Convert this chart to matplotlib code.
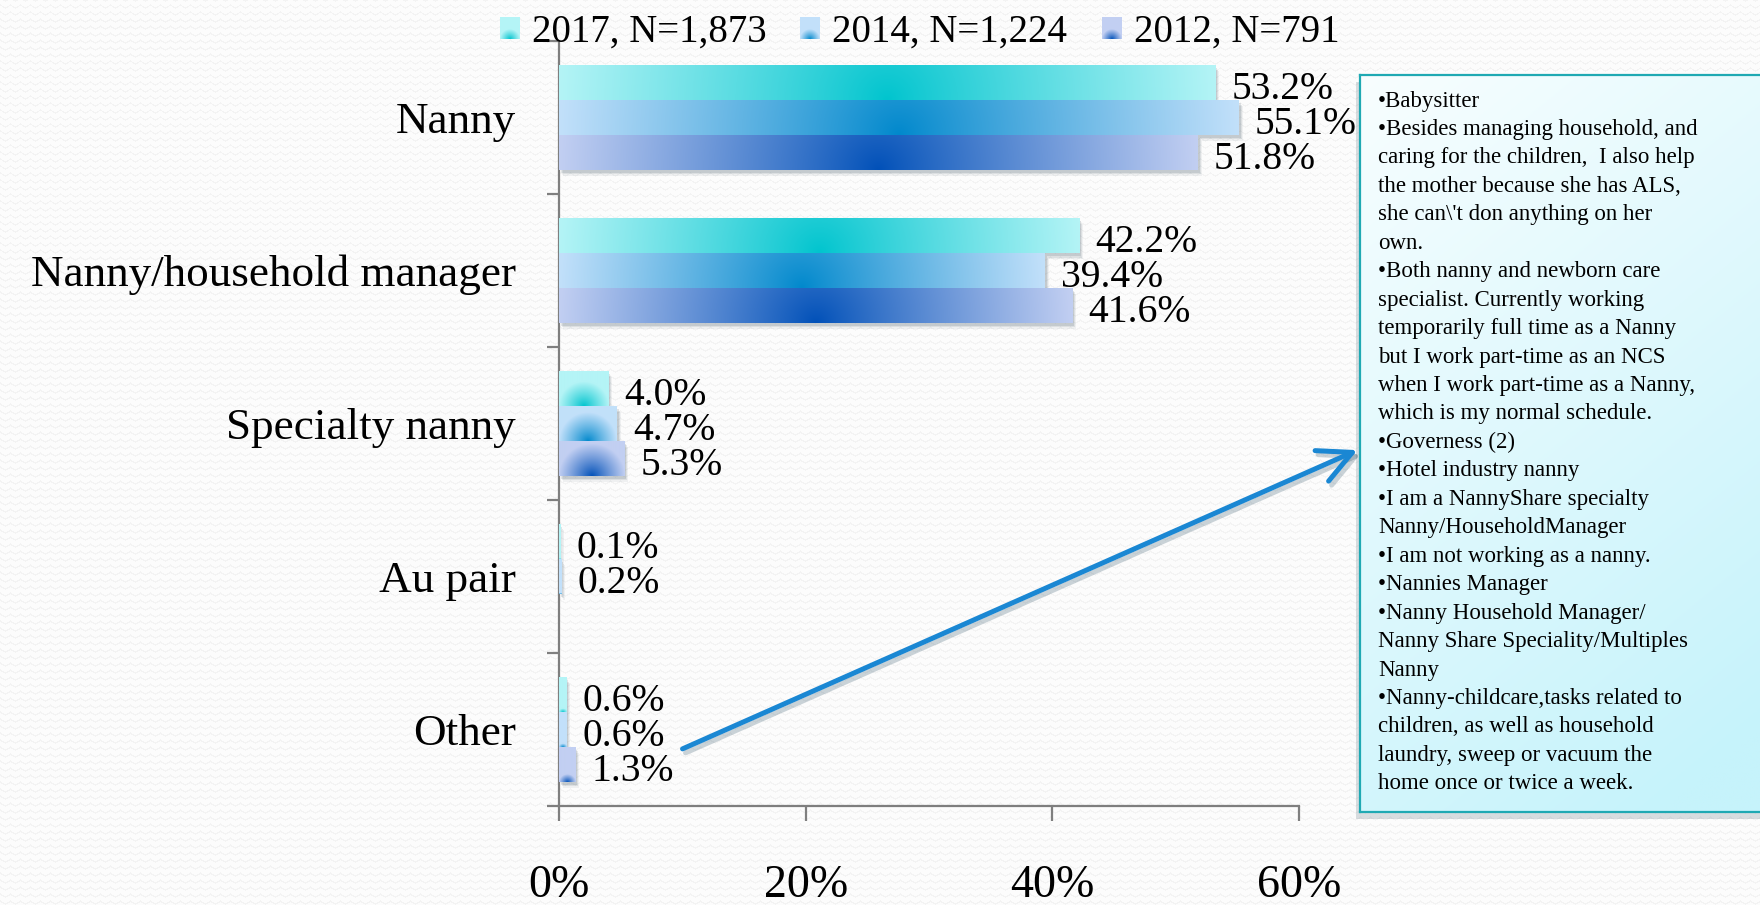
import numpy as np
import matplotlib
matplotlib.use("Agg")
import matplotlib.pyplot as plt
from matplotlib.colors import to_rgb
from matplotlib.patches import Rectangle, FancyArrowPatch
from matplotlib.transforms import ScaledTranslation, IdentityTransform

categories = ["Nanny", "Nanny/household manager", "Specialty nanny", "Au pair", "Other"]
series_names = ["2017, N=1,873", "2014, N=1,224", "2012, N=791"]
v2017 = [53.2, 42.2, 4.0, 0.1, 0.6]
v2014 = [55.1, 39.4, 4.7, 0.2, 0.6]
v2012 = [51.8, 41.6, 5.3, np.nan, 1.3]
x_ticks = [0, 20, 40, 60]
x_labels = ["0%", "20%", "40%", "60%"]

other_notes = [
    "\u2022Babysitter",
    "\u2022Besides managing household, and",
    "caring for the children,  I also help",
    "the mother because she has ALS,",
    "she can\\'t don anything on her",
    "own.",
    "\u2022Both nanny and newborn care",
    "specialist. Currently working",
    "temporarily full time as a Nanny",
    "but I work part-time as an NCS",
    "when I work part-time as a Nanny,",
    "which is my normal schedule.",
    "\u2022Governess (2)",
    "\u2022Hotel industry nanny",
    "\u2022I am a NannyShare specialty",
    "Nanny/HouseholdManager",
    "\u2022I am not working as a nanny.",
    "\u2022Nannies Manager",
    "\u2022Nanny Household Manager/",
    "Nanny Share Speciality/Multiples",
    "Nanny",
    "\u2022Nanny-childcare,tasks related to",
    "children, as well as household",
    "laundry, sweep or vacuum the",
    "home once or twice a week.",
]

# (light edge, saturated centre) for each series
fills = [("#b4f4f6", "#00c4ce"), ("#c2e0fa", "#0088cc"), ("#c2cff2", "#0050b8")]

FONT = "Liberation Serif"
W, H, DPI = 1760, 905, 100


def radial_fill(w_px, h_px, light, dark):
    # circular gradient centred on the bottom middle of the shape
    nx = max(int(round(w_px)), 2)
    ny = max(int(round(h_px)), 2)
    xs = np.arange(nx) + 0.5 - nx / 2
    ys = ny - (np.arange(ny) + 0.5)
    X, Y = np.meshgrid(xs, ys)
    r = max(w_px / 2, 1.0)
    t = np.clip(np.hypot(X, Y) / r, 0, 1) ** 0.9
    lo, hi = np.array(to_rgb(dark)), np.array(to_rgb(light))
    return lo + (hi - lo) * t[..., None]


fig = plt.figure(figsize=(W / DPI, H / DPI), dpi=DPI)
fig.patch.set_facecolor("white")

# faint zig-zag paper texture
yy, xx = np.mgrid[0:H, 0:W]
tri = np.abs((xx % 10) - 5) * 0.6
pat = ((yy + tri) % 7) < 1.4
bg = np.where(pat, 0.955, 0.99)
fig.figimage(np.dstack([bg, bg, bg]), 0, 0, zorder=-10)

ax = fig.add_axes([559 / W, 1 - 806 / H, 740 / W, 765 / H])
ax.set_facecolor("none")
ax.set_xlim(0, 60)
ax.set_ylim(4.5, -0.5)

bar_h = 0.227
ypos = np.arange(len(categories))
all_series = [v2017, v2014, v2012]

for i, vals in enumerate(all_series):
    light, dark = fills[i]
    offs = ypos + (i - 1) * bar_h
    bars = ax.barh(offs, np.nan_to_num(vals), height=bar_h, color="none",
                   edgecolor="none", zorder=3)
    for b, v, yc in zip(bars, vals, offs):
        if np.isnan(v):
            continue
        y0, y1 = yc - bar_h / 2, yc + bar_h / 2
        p0 = ax.transData.transform((0, y0))
        p1 = ax.transData.transform((v, y1))
        w_px, h_px = abs(p1[0] - p0[0]), abs(p1[1] - p0[1])
        # soft drop shadow
        for k, a in enumerate([0.12, 0.09, 0.06]):
            sh = ScaledTranslation((2 + k) / DPI, -(3 + 1.5 * k) / DPI, fig.dpi_scale_trans)
            ax.add_patch(Rectangle((0, y0), v, bar_h, facecolor="#1f3a4a",
                                   alpha=a, edgecolor="none",
                                   transform=ax.transData + sh, zorder=2))
        img = radial_fill(w_px, h_px, light, dark)
        ax.imshow(img, extent=(0, v, y1, y0), origin="upper", aspect="auto",
                  interpolation="bilinear", zorder=3)
        ax.annotate(f"{v:.1f}%", xy=(v, yc), xytext=(16, -7),
                    textcoords="offset pixels", ha="left", va="center",
                    fontsize=28.5, family=FONT, color="black", zorder=5)

ax.set_xlim(0, 60)
ax.set_ylim(4.5, -0.5)

for s in ["top", "right"]:
    ax.spines[s].set_visible(False)
for s in ["left", "bottom"]:
    ax.spines[s].set_color("#7f7f7f")
    ax.spines[s].set_linewidth(1.6)

ax.set_yticks(ypos)
ax.set_yticklabels(categories, fontsize=32.5, family=FONT)
ax.set_yticks(np.arange(-0.5, 4.6, 1.0), minor=True)
ax.tick_params(axis="y", which="major", length=0, pad=31)
ax.tick_params(axis="y", which="minor", length=9, width=1.6, color="#7f7f7f",
               direction="out")
ax.set_xticks(x_ticks)
ax.set_xticklabels(x_labels, fontsize=33, family=FONT)
ax.tick_params(axis="x", length=11, width=1.6, color="#7f7f7f",
               direction="out", pad=31)

# legend across the top
leg_x = [500, 800, 1102]
for i, name in enumerate(series_names):
    light, dark = fills[i]
    sw = radial_fill(20, 22, light, dark)
    fig.figimage(sw, leg_x[i], H - 39, zorder=5)
    fig.text((leg_x[i] + 32) / W, 1 - 32 / H, name, fontsize=28, family=FONT,
             ha="left", va="center")

# notes box for "Other"
bx0, by_top, by_bot = 1360, 75, 812
shadow = Rectangle(((bx0 - 4) / W, 1 - (by_bot + 7) / H), (W - bx0 + 20) / W,
                   (by_bot - by_top) / H, transform=fig.transFigure,
                   facecolor="#6a7f8a", alpha=0.25, edgecolor="none", zorder=6)
fig.add_artist(shadow)
bax = fig.add_axes([bx0 / W, 1 - by_bot / H, (W - bx0 + 20) / W, (by_bot - by_top) / H])
bax.set_zorder(7)
gy, gx = np.mgrid[0:1:200j, 0:1:200j]
gt = np.clip(0.35 * gx + 0.75 * gy, 0, 1)
top_c, bot_c = np.array(to_rgb("#f8feff")), np.array(to_rgb("#c6f3fb"))
bax.imshow(top_c + (bot_c - top_c) * gt[..., None], extent=(0, 1, 0, 1),
           origin="upper", aspect="auto")
bax.set_xticks([])
bax.set_yticks([])
for s in bax.spines.values():
    s.set_color("#1fa9b3")
    s.set_linewidth(1.6)

for j, line in enumerate(other_notes):
    fig.text(1378 / W, 1 - (101 + 28.45 * j) / H, line, fontsize=16.5,
             family=FONT, ha="left", va="center", zorder=8)

# pointer from the "Other" bars to the notes box
a0, a1 = (680, H - 750), (1360, H - 449)
for off, col, al in [((3, -4), "#33556a", 0.25), ((0, 0), "#1a87d3", 1.0)]:
    arr = FancyArrowPatch((a0[0] + off[0], a0[1] + off[1]),
                          (a1[0] + off[0], a1[1] + off[1]),
                          arrowstyle="->,head_length=1.2,head_width=0.6",
                          mutation_scale=20, color=col, alpha=al, lw=3.6,
                          transform=IdentityTransform(), zorder=9)
    fig.add_artist(arr)

fig.savefig("out.png", dpi=DPI)
